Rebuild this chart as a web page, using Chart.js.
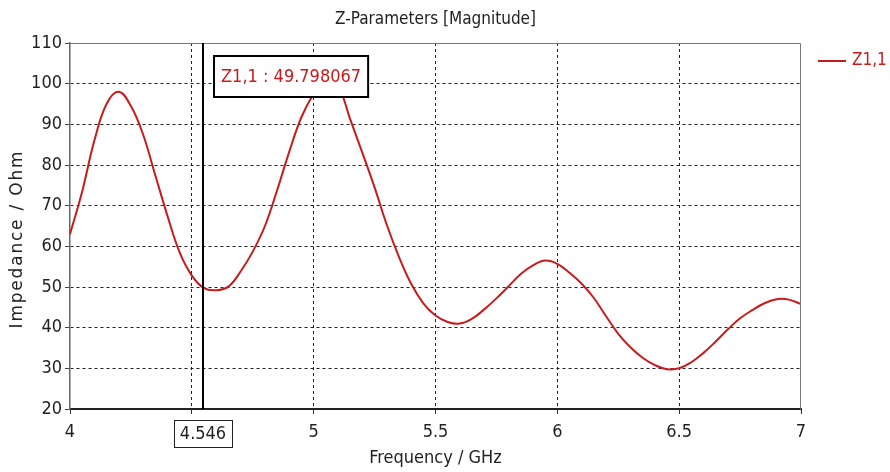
<!DOCTYPE html>
<html>
<head>
<meta charset="utf-8">
<script src="https://cdn.jsdelivr.net/npm/chart.js@4.4.1/dist/chart.umd.min.js"></script>
<style>
  html, body { margin: 0; padding: 0; background: #fff; }
  canvas { display: block; }
</style>
</head>
<body>
<canvas id="myChart" width="890" height="472"></canvas>
<script>
// frequency samples (GHz), every 0.05 GHz
const freqs = [4.00, 4.05, 4.10, 4.15, 4.20, 4.25, 4.30, 4.35, 4.40, 4.45,
               4.50, 4.55, 4.60, 4.65, 4.70, 4.75, 4.80, 4.85, 4.90, 4.95,
               5.00, 5.05, 5.10, 5.15, 5.20, 5.25, 5.30, 5.35, 5.40, 5.45,
               5.50, 5.55, 5.60, 5.65, 5.70, 5.75, 5.80, 5.85, 5.90, 5.95,
               6.00, 6.05, 6.10, 6.15, 6.20, 6.25, 6.30, 6.35, 6.40, 6.45,
               6.50, 6.55, 6.60, 6.65, 6.70, 6.75, 6.80, 6.85, 6.90, 6.95,
               7.00]
// |Z1,1| in Ohm
const z11 = [63, 73.5, 86, 95, 98, 94.5, 87.5, 77.5, 67.5, 58.5,
             52.8, 49.7, 49.2, 50.1, 53.8, 58.7, 65, 73.8, 83.3, 91.8,
             97.5, 101.5, 99.5, 91.2, 83, 74.5, 65.3, 57.4, 50.8, 46,
             43, 41.4, 41, 42.2, 44.5, 47.2, 50.2, 53.2, 55.3, 56.5,
             55.7, 53.5, 50.8, 47.3, 42.8, 38.5, 35.2, 32.6, 30.8, 29.8,
             30, 31.5, 33.8, 36.6, 39.6, 42.3, 44.3, 46, 47, 46.9,
             45.8]
const xTicks = [4, 4.5, 5, 5.5, 6, 6.5, 7]
const yTicks = [20, 30, 40, 50, 60, 70, 80, 90, 100, 110]
const markerFreq = 4.546
const markerText = 'Z1,1 : 49.798067'

const RED = '#c81b1b'
const NARROW = "'Liberation Sans Narrow', 'DejaVu Sans Condensed', sans-serif"

//--extra drawings: frame, marker, annotation, title, legend, y title
const decor = {
    id: 'decor',
    afterDatasetsDraw(chart) {
        const { ctx, chartArea: a, scales: { x } } = chart
        ctx.save()

        // top / right frame
        ctx.strokeStyle = '#777'
        ctx.lineWidth = 1
        ctx.beginPath()
        ctx.moveTo(a.left, a.top + 0.5)
        ctx.lineTo(a.right - 0.5, a.top + 0.5)
        ctx.lineTo(a.right - 0.5, a.bottom)
        ctx.stroke()

        // marker line
        const mx = Math.round(x.getPixelForValue(markerFreq))
        ctx.strokeStyle = '#000'
        ctx.lineWidth = 2
        ctx.beginPath()
        ctx.moveTo(mx, a.top)
        ctx.lineTo(mx, a.bottom)
        ctx.stroke()

        // marker value box
        ctx.font = '18px ' + NARROW
        ctx.textBaseline = 'middle'
        ctx.textAlign = 'center'
        const tw = ctx.measureText(markerText).width
        const bx = mx + 11, by = 56, bw = tw + 14, bh = 41
        ctx.fillStyle = '#fff'
        ctx.fillRect(bx, by, bw, bh)
        ctx.lineWidth = 2
        ctx.strokeRect(bx, by, bw, bh)
        ctx.fillStyle = RED
        ctx.fillText(markerText, bx + bw / 2, by + bh / 2 + 1)

        // marker frequency label under the axis
        const ft = String(markerFreq)
        const fw = ctx.measureText(ft).width + 12
        ctx.fillStyle = '#fff'
        ctx.fillRect(mx - fw / 2, 420, fw, 27)
        ctx.strokeStyle = '#222'
        ctx.lineWidth = 1
        ctx.strokeRect(Math.round(mx - fw / 2) + 0.5, 420.5, Math.round(fw), 27)
        ctx.fillStyle = '#222'
        ctx.fillText(ft, mx, 434)

        // chart title
        ctx.font = '17px ' + NARROW
        ctx.fillText('Z-Parameters [Magnitude]', (a.left + a.right) / 2, 20)

        // legend
        ctx.strokeStyle = RED
        ctx.lineWidth = 2
        ctx.beginPath()
        ctx.moveTo(818, 61)
        ctx.lineTo(846, 61)
        ctx.stroke()
        ctx.fillStyle = RED
        ctx.textAlign = 'left'
        ctx.fillText('Z1,1', 852, 61)

        // y axis title
        ctx.translate(18, 239)
        ctx.rotate(-Math.PI / 2)
        ctx.textAlign = 'center'
        ctx.fillStyle = '#222'
        ctx.font = "17px 'DejaVu Sans', sans-serif"
        ctx.letterSpacing = '1.8px'
        ctx.fillText('Impedance / Ohm', 0, 0)

        ctx.restore()
    }
}

new Chart(document.getElementById('myChart'), {
    type: 'line',
    data: {
        datasets: [{
            label: 'Z1,1',
            data: freqs.map((f, i) => ({ x: f, y: z11[i] })),
            borderColor: RED,
            borderWidth: 2,
            pointRadius: 0,
            tension: 0.4
        }]
    },
    options: {
        responsive: false,
        animation: false,
        events: [],
        layout: { padding: { top: 43, right: 89, left: 0, bottom: 0 } },
        plugins: {
            legend: { display: false },
            title: { display: false },
            tooltip: { enabled: false }
        },
        scales: {
            x: {
                type: 'linear',
                min: 4,
                max: 7,
                afterFit: (s) => { s.height = 63 },
                afterBuildTicks: (s) => { s.ticks = xTicks.map(v => ({ value: v })) },
                ticks: {
                    padding: 8,
                    color: '#222',
                    font: { family: NARROW, size: 18 },
                    maxRotation: 0,
                    callback: (v) => v === 4.5 ? '' : String(v)
                },
                grid: {
                    color: (c) => (c.tick && (c.tick.value === 4 || c.tick.value === 7)) ? 'rgba(0,0,0,0)' : '#222',
                    lineWidth: 1,
                    tickLength: 5,
                    tickColor: '#333'
                },
                border: { color: '#222', width: 2, dash: [3, 3] },
                title: {
                    display: true,
                    text: 'Frequency / GHz',
                    color: '#222',
                    font: { family: NARROW, size: 18 },
                    padding: { top: 0, bottom: 3 }
                }
            },
            y: {
                min: 20,
                max: 110,
                afterFit: (s) => { s.width = 70 },
                afterBuildTicks: (s) => { s.ticks = yTicks.map(v => ({ value: v })) },
                ticks: {
                    padding: 3,
                    color: '#222',
                    font: { family: NARROW, size: 18 }
                },
                grid: {
                    color: (c) => (c.tick && (c.tick.value === 20 || c.tick.value === 110)) ? 'rgba(0,0,0,0)' : '#222',
                    lineWidth: 1,
                    tickLength: 5,
                    tickColor: '#444'
                },
                border: { color: '#666', width: 1.5, dash: [3, 3] }
            }
        }
    },
    plugins: [decor]
})
</script>
</body>
</html>
